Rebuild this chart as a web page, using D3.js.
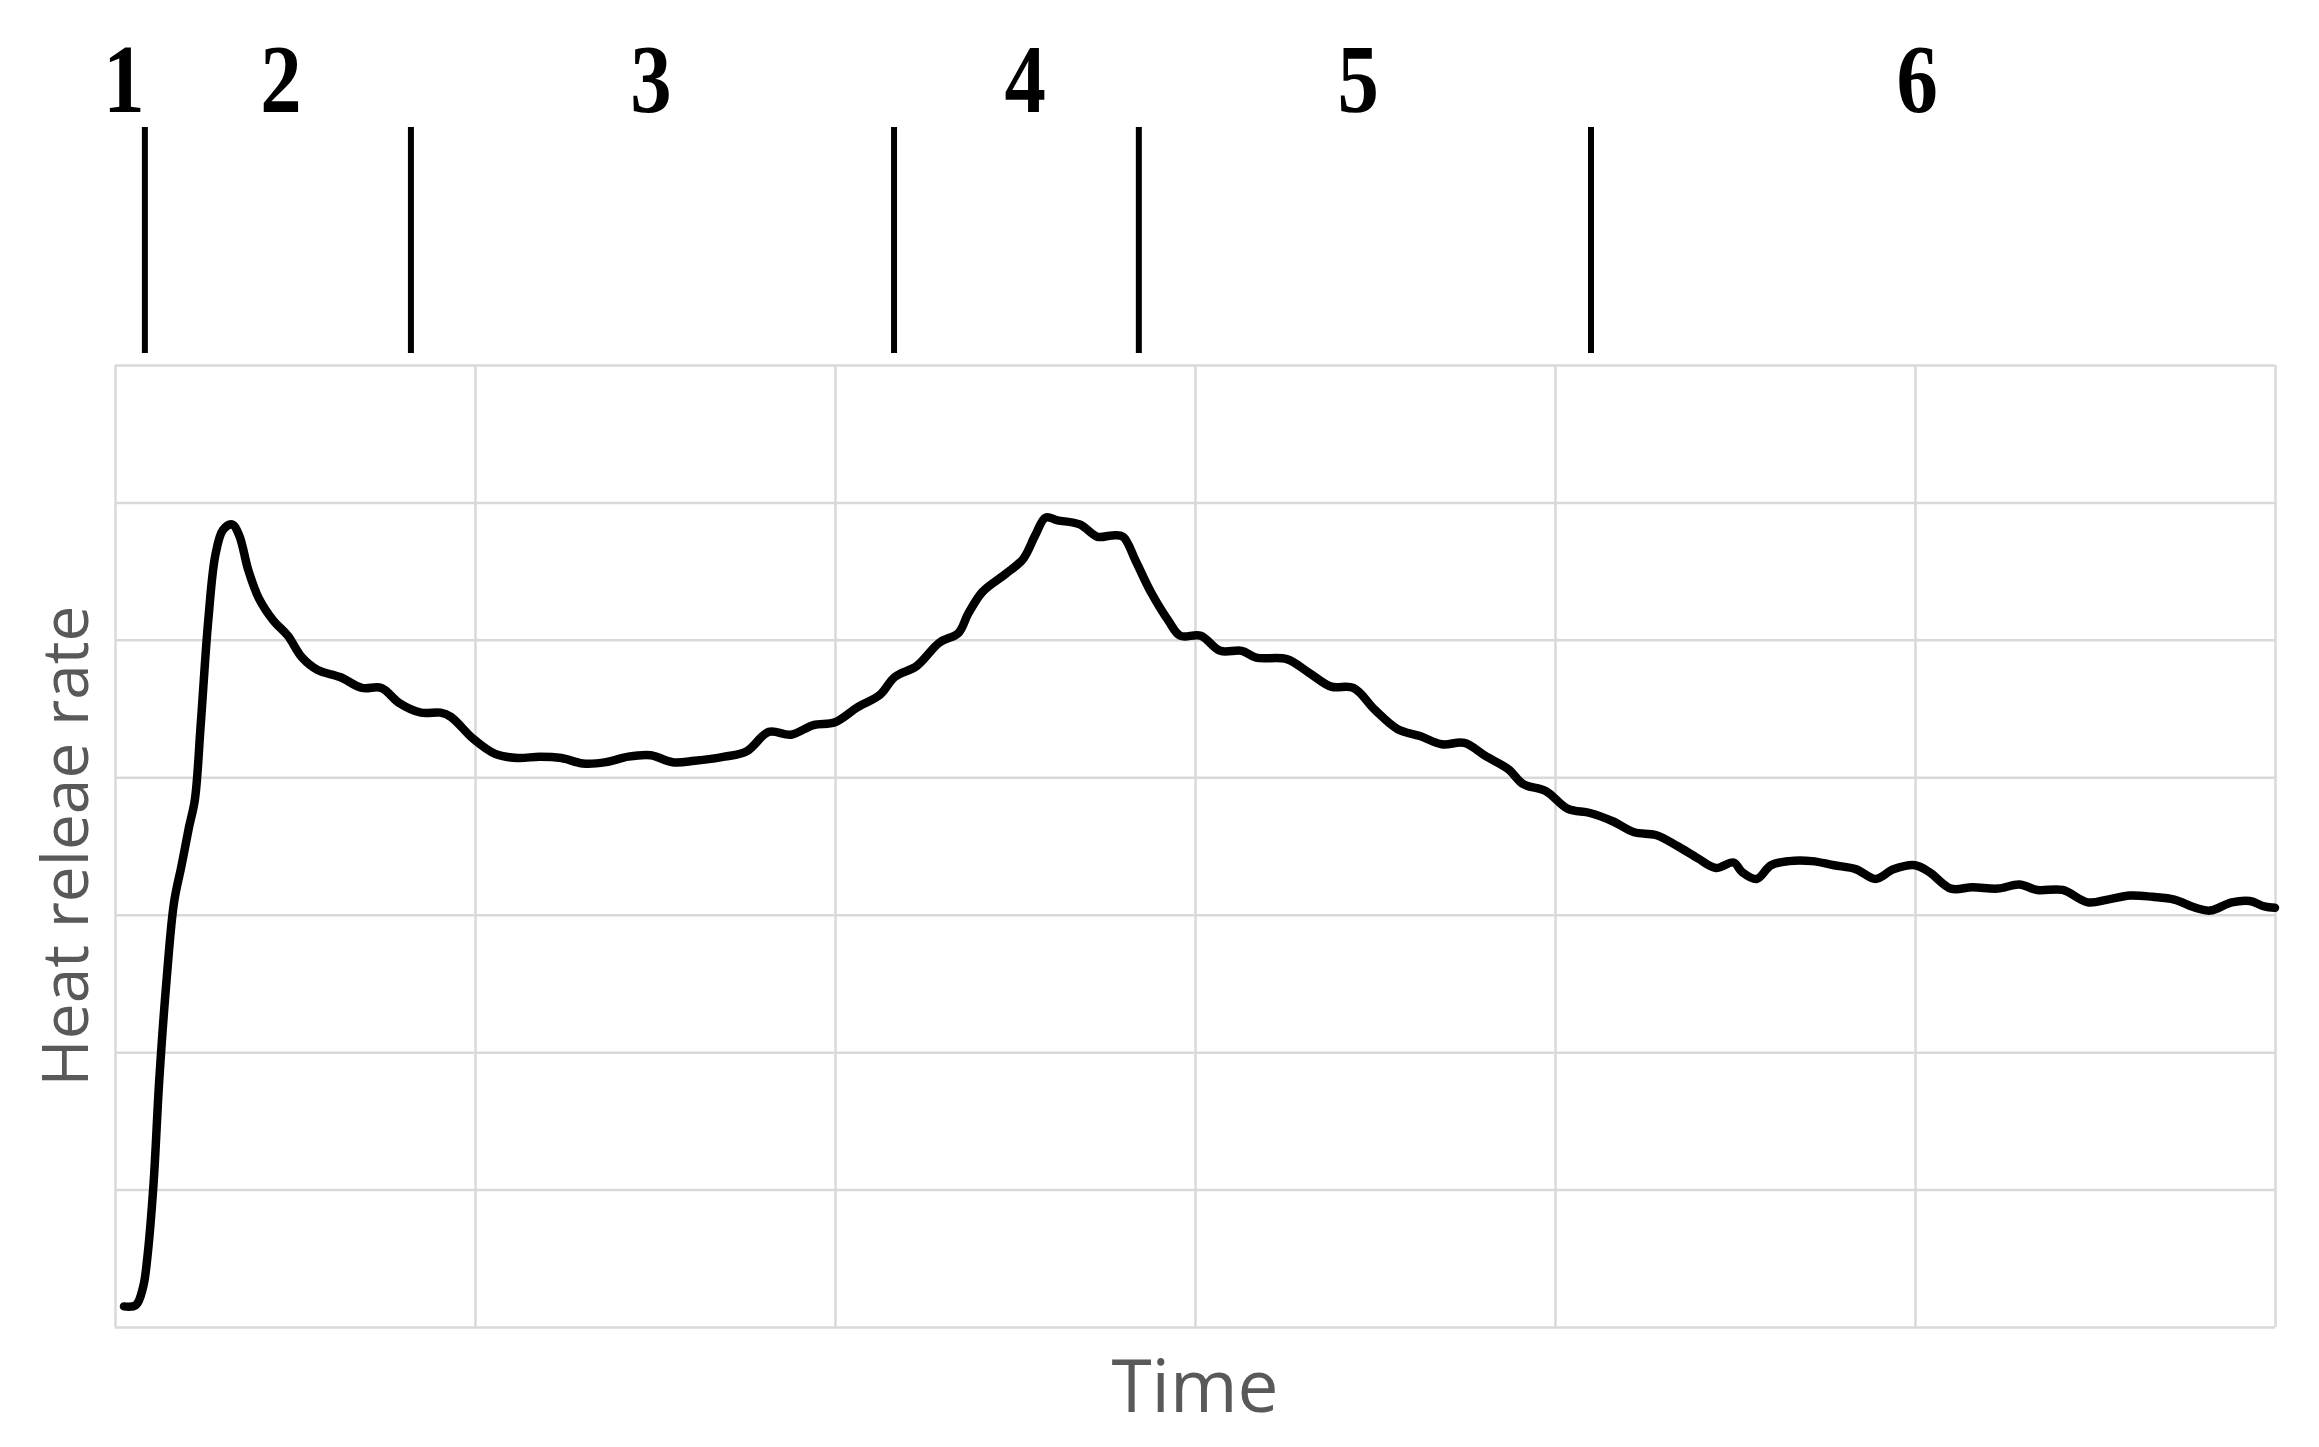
<!DOCTYPE html>
<html>
<head>
<meta charset="utf-8">
<script src="https://cdn.jsdelivr.net/npm/d3@7"></script>
<style>
  html, body { margin: 0; padding: 0; background: #fff; }
  svg { display: block; }
</style>
</head>
<body>
<svg id="chart" width="2319" height="1447"></svg>
<script>
// ---- data (arbitrary units: x grid 0..6, y grid 0..7) ----
const timeValues = [0.025,0.058,0.078,0.09,0.107,0.123,0.144,0.164,0.185,0.205,0.222,0.238,0.259,0.279,0.30,0.325,0.345,0.37,0.40,0.44,0.48,0.52,0.563,0.625,0.686,0.74,0.79,0.85,0.904,0.933,0.995,1.056,1.118,1.18,1.24,1.30,1.364,1.426,1.488,1.549,1.61,1.693,1.755,1.816,1.878,1.94,2.00,2.063,2.125,2.166,2.227,2.29,2.343,2.37,2.41,2.474,2.523,2.556,2.585,2.618,2.68,2.729,2.77,2.80,2.836,2.877,2.926,2.959,3.016,3.07,3.13,3.17,3.255,3.317,3.378,3.44,3.50,3.563,3.625,3.686,3.748,3.81,3.87,3.912,3.974,4.036,4.097,4.16,4.22,4.28,4.34,4.397,4.447,4.496,4.52,4.56,4.60,4.65,4.714,4.775,4.837,4.89,4.94,5.00,5.04,5.10,5.16,5.23,5.29,5.34,5.41,5.48,5.535,5.597,5.66,5.72,5.78,5.82,5.88,5.93,5.97,6.0];
const heatReleaseRate = [0.15,0.16,0.29,0.51,1.04,1.80,2.55,3.09,3.36,3.63,3.84,4.38,5.14,5.62,5.80,5.84,5.76,5.51,5.30,5.14,5.03,4.87,4.78,4.73,4.65,4.65,4.54,4.47,4.47,4.44,4.28,4.17,4.14,4.15,4.14,4.10,4.11,4.15,4.16,4.11,4.12,4.15,4.19,4.33,4.31,4.38,4.40,4.51,4.60,4.73,4.81,4.98,5.05,5.19,5.35,5.48,5.59,5.76,5.89,5.87,5.84,5.75,5.76,5.75,5.57,5.35,5.14,5.03,5.03,4.92,4.92,4.87,4.86,4.76,4.66,4.65,4.49,4.35,4.30,4.24,4.25,4.15,4.06,3.95,3.90,3.77,3.74,3.68,3.60,3.58,3.50,3.41,3.34,3.38,3.31,3.26,3.36,3.39,3.39,3.36,3.33,3.26,3.33,3.36,3.31,3.19,3.20,3.19,3.22,3.18,3.18,3.09,3.11,3.14,3.13,3.11,3.05,3.03,3.09,3.10,3.06,3.05];

const xGridTicks = [0,1,2,3,4,5,6];
const yGridTicks = [0,1,2,3,4,5,6,7];

const stageLabels = ["1","2","3","4","5","6"];
const stageLabelPositions = [0.025,0.461,1.489,2.528,3.453,5.006];
const stageBoundaries = [0.083,0.822,2.164,2.844,4.10];

const xTitle = "Time";
const yTitle = "Heat releae rate";

// ---- layout ----
const svg = d3.select("#chart");
const plot = {left: 115, right: 2275, top: 365, bottom: 1327};

const x = d3.scaleLinear().domain([0, 6]).range([plot.left, plot.right]);
const y = d3.scaleLinear().domain([0, 7]).range([plot.bottom, plot.top]);

const gridColor = "#d9d9d9";

// gridlines via axes
svg.append("g")
  .attr("transform", `translate(0,${plot.bottom})`)
  .call(d3.axisBottom(x).tickValues(xGridTicks).tickSize(-(plot.bottom - plot.top)).tickFormat(""))
  .call(g => g.select(".domain").remove())
  .call(g => g.selectAll("line").attr("stroke", gridColor).attr("stroke-width", 2.5));

svg.append("g")
  .attr("transform", `translate(${plot.left},0)`)
  .call(d3.axisLeft(y).tickValues(yGridTicks).tickSize(-(plot.right - plot.left)).tickFormat(""))
  .call(g => g.select(".domain").remove())
  .call(g => g.selectAll("line").attr("stroke", gridColor).attr("stroke-width", 2.5));

// curve
const pts = timeValues.map((t, i) => [t, heatReleaseRate[i]]);
const lineGen = d3.line().x(d => x(d[0])).y(d => y(d[1])).curve(d3.curveCatmullRom.alpha(0.5));
svg.append("path")
  .datum(pts)
  .attr("d", lineGen)
  .attr("fill", "none")
  .attr("stroke", "#000")
  .attr("stroke-width", 8.5)
  .attr("stroke-linejoin", "round")
  .attr("stroke-linecap", "round");

// stage dividers above the plot
svg.append("g").selectAll("line")
  .data(stageBoundaries)
  .join("line")
  .attr("x1", d => x(d)).attr("x2", d => x(d))
  .attr("y1", 127).attr("y2", 353)
  .attr("stroke", "#000")
  .attr("stroke-width", 6);

// stage labels
svg.append("g").selectAll("text")
  .data(stageLabels)
  .join("text")
  .attr("transform", (d, i) => `translate(${x(stageLabelPositions[i])},112) scale(0.9,1.05)`)
  .attr("text-anchor", "middle")
  .attr("font-family", "'Liberation Serif', 'Times New Roman', serif")
  .attr("font-weight", "bold")
  .attr("font-size", 92)
  .attr("fill", "#000")
  .text(d => d);

// axis titles
svg.append("text")
  .attr("x", (plot.left + plot.right) / 2)
  .attr("y", 1412)
  .attr("text-anchor", "middle")
  .attr("font-family", "'Open Sans', sans-serif")
  .attr("font-size", 73)
  .attr("fill", "#595959")
  .text(xTitle);

svg.append("text")
  .attr("transform", `translate(88,${(plot.top + plot.bottom) / 2}) rotate(-90)`)
  .attr("text-anchor", "middle")
  .attr("font-family", "'Open Sans', sans-serif")
  .attr("font-size", 64)
  .attr("fill", "#595959")
  .text(yTitle);
</script>
</body>
</html>
